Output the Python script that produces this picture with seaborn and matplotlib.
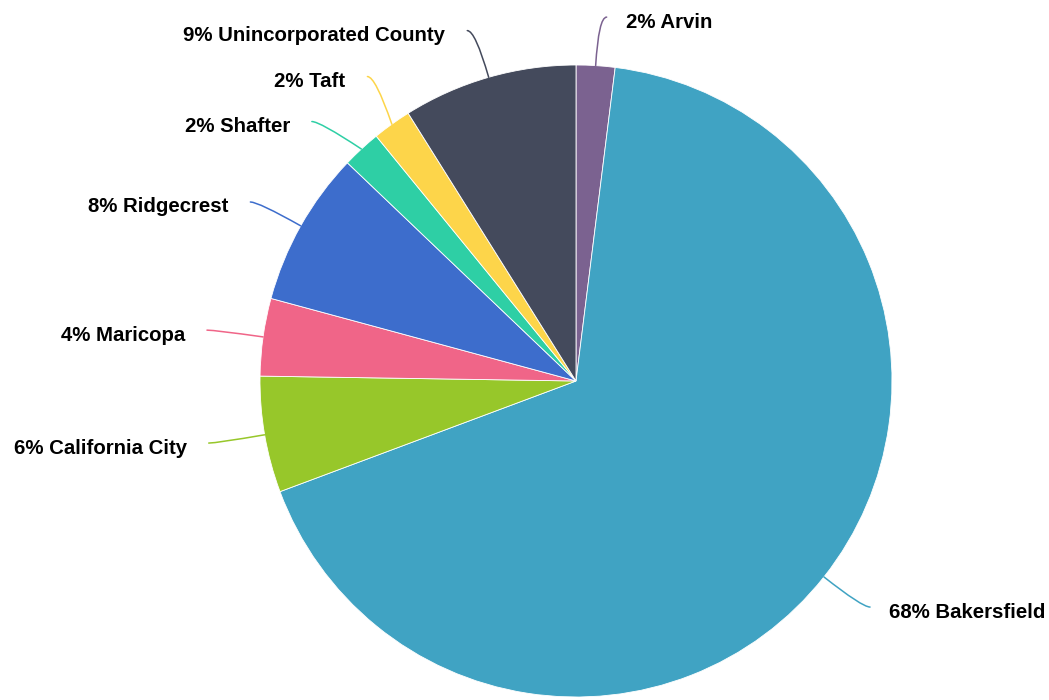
import numpy as np
import matplotlib
matplotlib.use("Agg")
import matplotlib.pyplot as plt
from matplotlib.path import Path
from matplotlib.patches import PathPatch
import seaborn as sns

# Share of total by area (percent)
areas = ["Arvin", "Bakersfield", "California City", "Maricopa",
         "Ridgecrest", "Shafter", "Taft", "Unincorporated County"]
shares = [2, 68, 6, 4, 8, 2, 2, 9]
colors = ["#7b6290", "#40a3c3", "#97c72a", "#f06588",
          "#3d6dcc", "#2ecfa5", "#fdd54a", "#444a5c"]

sns.set_theme(style="white")
plt.rcParams["font.family"] = ["Liberation Sans", "DejaVu Sans"]

W, H = 1049, 700
fig = plt.figure(figsize=(W / 100, H / 100), dpi=100)
ax = fig.add_axes([0, 0, 1, 1])

cx, cy, R = 576, H - 381, 316
ax.pie(shares, colors=colors, startangle=90, counterclock=False,
       center=(cx, cy), radius=R,
       wedgeprops=dict(edgecolor="white", linewidth=0.6))
ax.set_xlim(0, W)
ax.set_ylim(0, H)
ax.set_aspect("equal")
ax.axis("off")

# Leader-line geometry
len1, len2 = 48.6, 8
min_sep = 45
Rl = R + len1
fr = np.array(shares, dtype=float) / sum(shares)
cum = np.cumsum(fr)
mid = (cum - fr / 2) * 2 * np.pi  # clockwise from 12 o'clock

items = []
for i, a in enumerate(mid):
    s, c = np.sin(a), np.cos(a)
    p0 = (cx + R * s, cy + R * c)
    y1 = cy + Rl * c
    items.append(dict(i=i, side=1 if s >= 0 else -1, p0=p0, y=y1, s=s))

# Push labels apart on each side so they do not collide
for side in (1, -1):
    grp = sorted([it for it in items if it["side"] == side], key=lambda d: -d["y"])
    for _ in range(50):
        moved = False
        for a_, b_ in zip(grp[:-1], grp[1:]):
            d = a_["y"] - b_["y"]
            if d < min_sep - 1e-6:
                sh = (min_sep - d) / 2
                a_["y"] += sh
                b_["y"] -= sh
                moved = True
        if not moved:
            break

for it in items:
    side = it["side"]
    dy = it["y"] - cy
    x1 = cx + side * np.sqrt(max(Rl ** 2 - dy ** 2, 0.0))
    p1 = (x1, it["y"])
    p2 = (x1 + side * len2, it["y"])
    path = Path([it["p0"], p1, p2], [Path.MOVETO, Path.CURVE3, Path.CURVE3])
    ax.add_patch(PathPatch(path, facecolor="none", edgecolor=colors[it["i"]],
                           linewidth=1.1, capstyle="round"))
    i = it["i"]
    gap = 19 if side > 0 else 22
    ax.text(p2[0] + side * gap, p2[1] - 5, f"{shares[i]}% {areas[i]}",
            ha="left" if side > 0 else "right", va="center",
            fontsize=14.7, fontweight="bold", color="black")

fig.savefig("out.png", dpi=100)
